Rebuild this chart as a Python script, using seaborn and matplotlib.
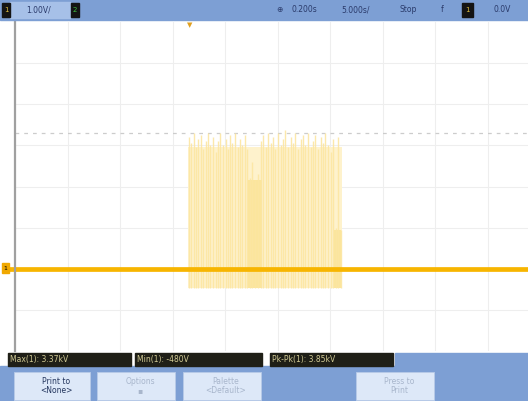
import seaborn as sns
import matplotlib.pyplot as plt
import pandas as pd
from matplotlib.patches import Rectangle

# scope settings
volts_per_div = 1.0      # kV / div (1000:1 probe)
secs_per_div = 5.0
ground_div = -2          # ground marker 2 div below centre

# baseline trace (kV)
trace_t = [-25.7, 24.0]
trace_v = [0.0, 0.0]

# burst spikes: time (s) and peak (kV)
spike_t = [-8.45, -8.25, -8.0, -7.8, -7.55, -7.3, -7.1, -6.85, -6.6, -6.4,
           -6.15, -5.9, -5.7, -5.45, -5.2, -4.95, -4.75, -4.5, -4.3, -4.05,
           -3.8, -3.6, -3.35, -3.1, -2.9, -2.6, -2.4, -2.1, -1.85, -1.6,
           -1.35, -1.1, -0.9, -0.65, -0.4, -0.2, 0.05, 0.3, 0.55, 0.75,
           1.0, 1.25, 1.5, 1.7, 1.95, 2.2, 2.45, 2.65, 2.9, 3.15,
           3.4, 3.6, 3.85, 4.1, 4.35, 4.55, 4.8, 5.05, 5.3, 5.55, 5.8, 6.05]
spike_top = [3.2, 3.05, 3.3, 2.95, 3.15, 3.25, 2.9, 3.1, 3.3, 3.0,
             3.2, 2.85, 3.1, 3.3, 3.0, 3.15, 2.9, 3.25, 3.05, 3.3,
             2.95, 3.15, 3.0, 3.25, 2.9, 2.2, 2.6, 2.15, 2.3, 3.1,
             3.25, 2.95, 3.3, 3.05, 3.2, 2.9, 3.3, 3.0, 3.15, 3.37,
             2.95, 3.2, 3.05, 3.3, 2.9, 3.15, 3.25, 3.0, 3.3, 2.95,
             3.1, 3.25, 2.9, 3.2, 3.05, 3.3, 3.0, 2.85, 3.15, 1.0, 3.2, 0.95]
spike_low = -0.48

# burst envelope (s, kV)
env_t = [-8.5, 6.1]
env_top = [2.95, 2.95]

trig_level = 3.3

# measurements and softkeys
meas_labels = ['Max(1): 3.37kV', 'Min(1): -480V', 'Pk-Pk(1): 3.85kV']
key_labels = ['Print to\n<None>', 'Options\n\u25aa', 'Palette\n<Default>', 'Press to\nPrint']

W, H = 528, 401
sns.set_style('white')
fig = plt.figure(figsize=(W / 100, H / 100), dpi=100)
fig.patch.set_facecolor('white')


def fx(x):
    return x / W


def fy(y):
    return 1 - y / H


def frect(x0, y0, x1, y1, **kw):
    fig.patches.append(Rectangle((fx(x0), fy(y1)), (x1 - x0) / W, (y1 - y0) / H,
                                 transform=fig.transFigure, **kw))


# graticule: 52.5 px per div across, 41 px per div down
left, top, bottom = 15, 22, 351
ax = fig.add_axes([fx(left), fy(bottom), 1 - fx(left), (bottom - top) / H])
ndiv_x = (W - left) / 52.5
x0 = -5 * secs_per_div
ax.set_xlim(x0, x0 + ndiv_x * secs_per_div)
ax.set_ylim(ground_div * volts_per_div, (ground_div + 8) * volts_per_div)
ax.set_xticks([x0 + i * secs_per_div for i in range(1, 10)])
ax.set_yticks(range(-1, 6))
ax.grid(True, color='#eeeeee', lw=0.8)
ax.tick_params(length=0, labelleft=False, labelbottom=False)
for s in ['top', 'right', 'bottom']:
    ax.spines[s].set_visible(False)
ax.spines['left'].set_color('#a0a0a0')
ax.spines['left'].set_linewidth(1.6)

ax.axhline(trig_level, color='#cccccc', lw=0.9, ls=(0, (3, 4)))

# burst
ax.fill_between(env_t, [spike_low] * 2, env_top, color='#fef2cc', lw=0)
ax.vlines(spike_t, spike_low, spike_top, color='#fce6a2', lw=1.0, alpha=0.9)
ax.fill_between([-2.8, -1.5], [spike_low] * 2, [2.15, 2.15], color='#fbe59c', lw=0)
ax.fill_between([5.35, 6.05], [spike_low] * 2, [0.95, 0.95], color='#fbe59c', lw=0)

df = pd.DataFrame({'t': trace_t, 'v': trace_v})
sns.lineplot(data=df, x='t', y='v', ax=ax, color='#f7b500', lw=3.4, clip_on=False)
ax.set_xlabel('')
ax.set_ylabel('')

# trigger position marker and ground marker
fig.text(fx(190), fy(25), '\u25bc', color='#e0a020', fontsize=5, ha='center', va='center')
frect(2, 263, 9, 273, color='#f0a800')
fig.text(fx(5.5), fy(268), '1', color='black', fontsize=4.5, ha='center', va='center')

# top status bar
frect(0, 0, W, 20, color='#7d9fd4')
frect(10, 2, 70, 18, color='#a6c0e8')
frect(2, 3, 10, 17, color='#141414')
frect(71, 3, 79, 17, color='#141414')
frect(462, 3, 473, 17, color='#141414')
fig.text(fx(6), fy(10), '1', color='#e0c040', fontsize=5, ha='center', va='center')
fig.text(fx(75), fy(10), '2', color='#40c040', fontsize=5, ha='center', va='center')
fig.text(fx(467), fy(10), '1', color='#e0c040', fontsize=5, ha='center', va='center')
bar_txt = dict(color='#2a3a6a', fontsize=5.5, va='center')
fig.text(fx(26), fy(10), '1.00V/', **bar_txt)
fig.text(fx(276), fy(10), '\u2295', **bar_txt)
fig.text(fx(292), fy(10), '0.200s', **bar_txt)
fig.text(fx(341), fy(10), '5.000s/', **bar_txt)
fig.text(fx(400), fy(10), 'Stop', **bar_txt)
fig.text(fx(441), fy(10), 'f', **bar_txt)
fig.text(fx(494), fy(10), '0.0V', **bar_txt)

# measurement line
frect(0, 366, W, H, color='#7d9fd4')
frect(395, 353, W, 366, color='#7d9fd4')
for (a, b), lab in zip([(8, 131), (135, 262), (270, 393)], meas_labels):
    frect(a, 353, b, 366, color='#1f1f17')
    fig.text(fx(a + 2), fy(359.5), lab, color='#d2cb95', fontsize=5.5, va='center')

# softkeys
for i, ((a, b), lab) in enumerate(zip([(14, 90), (97, 175), (183, 261), (356, 434)], key_labels)):
    frect(a, 372, b, 400, color='#dde8f8', ec='#b8cbe8', lw=0.6)
    col = '#24365e' if i == 0 else '#a8b6cc'
    fig.text(fx((a + b) / 2 + 4), fy(386), lab, color=col, fontsize=5.5,
             ha='center', va='center', linespacing=1.0)

plt.savefig('out.png', dpi=100)
